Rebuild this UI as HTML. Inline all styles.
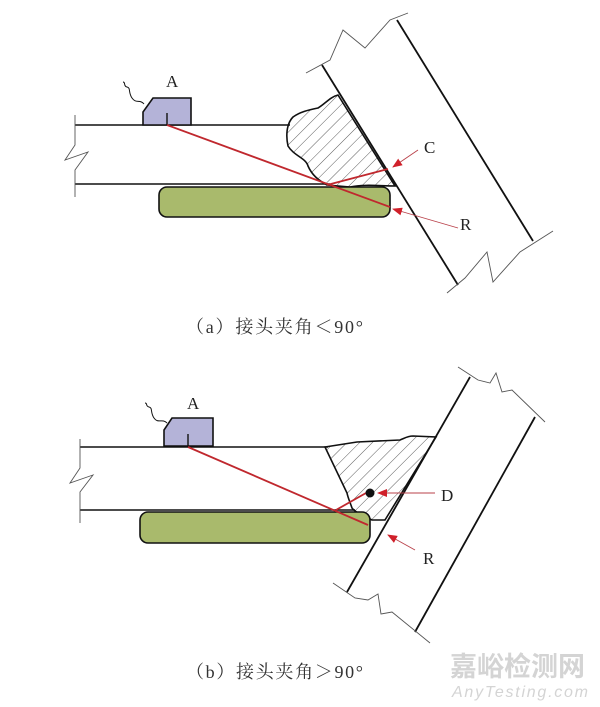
<!DOCTYPE html>
<html><head><meta charset="utf-8"><style>
html,body{margin:0;padding:0;background:#fff;}
svg{display:block;}
</style></head><body>
<svg width="600" height="707" viewBox="0 0 600 707" xmlns="http://www.w3.org/2000/svg">
<defs>
<pattern id="h" patternUnits="userSpaceOnUse" width="9" height="9" patternTransform="rotate(45)">
<line x1="0" y1="0" x2="0" y2="9" stroke="#333" stroke-width="0.8"/>
</pattern>
<marker id="ar" markerWidth="10" markerHeight="8" refX="9" refY="4" orient="auto" markerUnits="userSpaceOnUse">
<path d="M0,0 L10,4 L0,8 Z" fill="#d0202a"/>
</marker>
</defs>
<!-- ===== (a) ===== -->
<g fill="none" stroke="#111" stroke-width="1.6">
<line x1="75" y1="125" x2="290" y2="125"/>
<line x1="75" y1="184" x2="330" y2="184"/>
</g>
<polyline points="75,115 75,145 65,160 88,152 75,170 75,197" fill="none" stroke="#555" stroke-width="0.9"/>
<line x1="322" y1="65" x2="458" y2="285" stroke="#111" stroke-width="1.8"/>
<line x1="397" y1="20" x2="533" y2="241" stroke="#111" stroke-width="1.8"/>
<polyline points="306,73 330,60 343,30 365,48 390,20 408,13" fill="none" stroke="#555" stroke-width="0.9"/>
<polyline points="447,293 465,278 487,252 493,282 520,252 553,231" fill="none" stroke="#555" stroke-width="0.9"/>
<path d="M338,95 C330,97 325,104 318,108 C308,110 300,112 293,117 C286,124 286,137 288,146 C294,156 306,158 308,166 C312,175 318,180 327,185 L350,187 C365,184 380,186 395,186 Z" fill="url(#h)" stroke="#111" stroke-width="1.6"/>
<rect x="159" y="187" width="231" height="30" rx="8" fill="#a9ba6c" stroke="#111" stroke-width="1.6"/>
<path d="M143,125 L143,112 L153,98 L191,98 L191,125 Z" fill="#b4b3d8" stroke="#111" stroke-width="1.6"/>
<line x1="167" y1="113" x2="167" y2="125" stroke="#111" stroke-width="1.4"/>
<path d="M144,104 C140,99 136,104 132,98 C128,92 131,88 127,87 C123,86 126,82 123,82" fill="none" stroke="#111" stroke-width="1"/>
<text x="166" y="87" font-family="Liberation Serif, serif" font-size="17" fill="#222">A</text>
<line x1="167" y1="125" x2="390" y2="207" stroke="#c0282e" stroke-width="1.8"/>
<line x1="327" y1="185" x2="388" y2="169" stroke="#c0282e" stroke-width="1.8"/>
<line x1="418" y1="150" x2="393" y2="167" stroke="#b9414a" stroke-width="0.9" marker-end="url(#ar)"/>
<line x1="458" y1="228" x2="393" y2="209" stroke="#b9414a" stroke-width="0.9" marker-end="url(#ar)"/>
<text x="424" y="153" font-family="Liberation Serif, serif" font-size="17" fill="#222">C</text>
<text x="460" y="230" font-family="Liberation Serif, serif" font-size="17" fill="#222">R</text>
<text x="186" y="333" font-family="Liberation Serif, 'Noto Serif CJK SC', serif" font-size="18" fill="#333" textLength="177">（a）接头夹角＜90°</text>

<!-- ===== (b) ===== -->
<g fill="none" stroke="#111" stroke-width="1.6">
<line x1="80" y1="447" x2="328" y2="447"/>
<line x1="80" y1="510" x2="355" y2="510"/>
</g>
<polyline points="80,439 80,468 70,483 93,475 80,492 80,523" fill="none" stroke="#555" stroke-width="0.9"/>
<line x1="470" y1="377" x2="347" y2="592" stroke="#111" stroke-width="1.8"/>
<line x1="535" y1="417" x2="415" y2="632" stroke="#111" stroke-width="1.8"/>
<polyline points="458,367 478,380 490,383 496,373 502,392 512,390 545,422" fill="none" stroke="#555" stroke-width="0.9"/>
<polyline points="333,583 355,598 368,600 378,594 381,614 392,612 430,643" fill="none" stroke="#555" stroke-width="0.9"/>
<path d="M325,447 L357,442 L400,440 C405,438 408,436 413,436 L436,437 L385,520 L372,520 C362,515 355,512 352,508 C350,502 348,498 347,493 Z" fill="url(#h)" stroke="#111" stroke-width="1.6"/>
<rect x="140" y="512" width="230" height="31" rx="8" fill="#a9ba6c" stroke="#111" stroke-width="1.6"/>
<path d="M164,446 L164,430 L172,418 L213,418 L213,446 Z" fill="#b4b3d8" stroke="#111" stroke-width="1.6"/>
<line x1="188" y1="434" x2="188" y2="446" stroke="#111" stroke-width="1.4"/>
<path d="M167,423 C162,418 158,424 154,418 C150,412 153,408 149,407 C145,406 148,403 145,403" fill="none" stroke="#111" stroke-width="1"/>
<text x="187" y="409" font-family="Liberation Serif, serif" font-size="17" fill="#222">A</text>
<line x1="188" y1="447" x2="368" y2="525" stroke="#c0282e" stroke-width="1.8"/>
<line x1="336" y1="510" x2="366" y2="493" stroke="#c0282e" stroke-width="1.8"/>
<circle cx="370" cy="493" r="4.5" fill="#111"/>
<line x1="435" y1="493" x2="378" y2="493" stroke="#b9414a" stroke-width="0.9" marker-end="url(#ar)"/>
<line x1="415" y1="550" x2="388" y2="535" stroke="#b9414a" stroke-width="0.9" marker-end="url(#ar)"/>
<text x="441" y="501" font-family="Liberation Serif, serif" font-size="17" fill="#222">D</text>
<text x="423" y="564" font-family="Liberation Serif, serif" font-size="17" fill="#222">R</text>
<text x="186" y="678" font-family="Liberation Serif, 'Noto Serif CJK SC', serif" font-size="18" fill="#333" textLength="177">（b）接头夹角＞90°</text>

<text x="450" y="676" font-family="'Noto Sans CJK SC', sans-serif" font-size="27" font-weight="bold" fill="#d4d4d4">嘉峪检测网</text>
<text x="452" y="697" font-family="Liberation Sans, sans-serif" font-size="16" font-style="italic" fill="#d4d4d4" textLength="136">AnyTesting.com</text>
</svg>
</body></html>
